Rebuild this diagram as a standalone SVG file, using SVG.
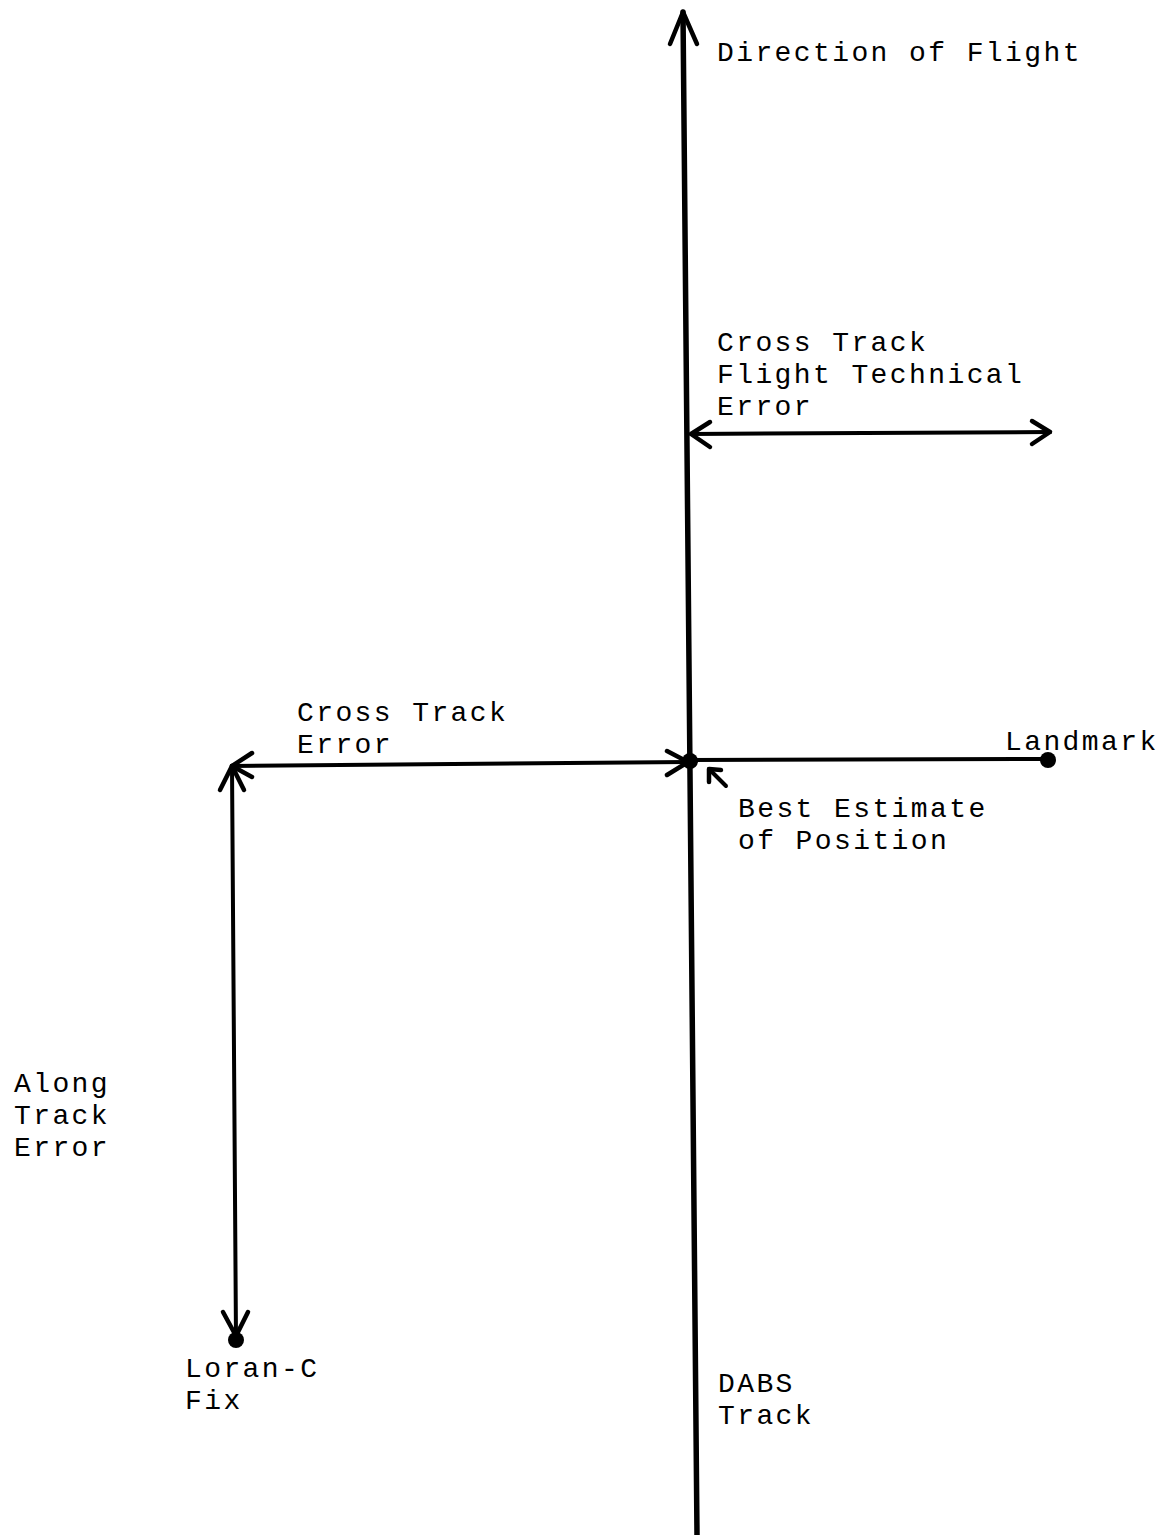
<svg xmlns="http://www.w3.org/2000/svg" width="1172" height="1535" viewBox="0 0 1172 1535">
<style>
text{font-family:"Liberation Mono","Courier New",monospace;font-size:28px;letter-spacing:2.4px;fill:#000}
.ln{stroke:#000;fill:none;stroke-linecap:round;stroke-linejoin:round}
.main{stroke-width:5.5}
.thin{stroke-width:4}
.head{stroke-width:4.5}
</style>
<rect width="1172" height="1535" fill="#fff"/>
<g id="connectors">
  <path class="ln main" d="M683 12 L697 1535"/>
  <path class="ln head" d="M670 44 L683 12 L697 44"/>
  <path class="ln thin" d="M691 434 L1050 432"/>
  <path class="ln head" d="M710 422 L691 434 L710 447"/>
  <path class="ln head" d="M1032 421 L1050 432 L1032 444"/>
  <path class="ln thin" d="M232 766 L688 762"/>
  <path class="ln head" d="M252 753 L232 766 L252 777"/>
  <path class="ln head" d="M667 751 L688 762 L667 775"/>
  <path class="ln thin" d="M690 760 L1048 759"/>
  <path class="ln thin" d="M232 766 L236 1340"/>
  <path class="ln head" d="M220 790 L232 766 L244 790"/>
  <path class="ln head" d="M223 1312 L236 1336 L248 1312"/>
  <path class="ln thin" d="M726 786 L709 769"/>
  <path class="ln head" d="M709 782 L709 769 L721 770"/>
</g>
<g id="best-estimate">
  <circle cx="690" cy="761" r="8"/>
  <text x="738" y="817">Best Estimate</text>
  <text x="738" y="849">of Position</text>
</g>
<g id="landmark">
  <circle cx="1048" cy="760" r="8"/>
  <text x="1005" y="750">Landmark</text>
</g>
<g id="loran-c-fix">
  <circle cx="236" cy="1340" r="8"/>
  <text x="185" y="1377">Loran-C</text>
  <text x="185" y="1409">Fix</text>
</g>
<g id="direction-of-flight">
  <text x="717" y="61">Direction of Flight</text>
</g>
<g id="cross-track-fte">
  <text x="717" y="351">Cross Track</text>
  <text x="717" y="383">Flight Technical</text>
  <text x="717" y="415">Error</text>
</g>
<g id="cross-track-error">
  <text x="297" y="721">Cross Track</text>
  <text x="297" y="753">Error</text>
</g>
<g id="along-track-error">
  <text x="14" y="1092">Along</text>
  <text x="14" y="1124">Track</text>
  <text x="14" y="1156">Error</text>
</g>
<g id="dabs-track">
  <text x="718" y="1392">DABS</text>
  <text x="718" y="1424">Track</text>
</g>
</svg>
